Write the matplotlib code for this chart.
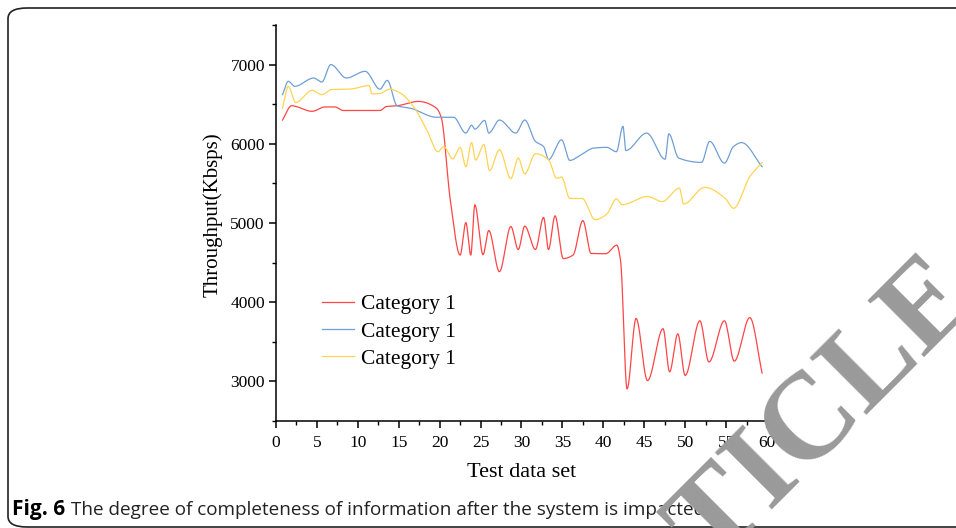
import numpy as np
import matplotlib
matplotlib.use("Agg")
import matplotlib.pyplot as plt
from matplotlib.patches import FancyBboxPatch

# values (x position, throughput)
red_x = [0.8, 1.9, 4.4, 6.0, 7.2, 8.2, 12.7, 13.5, 14.8, 17.4, 19.6, 20.2, 21.3, 22.5, 23.2,
         23.8, 24.3, 25.3, 26.0, 27.3, 28.7, 29.6, 30.4, 31.7, 32.7, 33.3, 34.1, 35.1, 36.3,
         37.5, 38.5, 40.3, 41.65, 42.1, 42.9, 44.0, 45.4, 47.3, 48.1, 49.1, 50.0, 51.8, 52.9,
         54.8, 56.0, 57.9, 59.4]
red_y = [6300, 6480, 6410, 6465, 6465, 6420, 6420, 6470, 6480, 6535, 6450, 6330, 5290, 4595, 5005,
         4595, 5230, 4600, 4905, 4385, 4955, 4665, 4960, 4665, 5070, 4665, 5090, 4550, 4595,
         5030, 4615, 4612, 4720, 4530, 2905, 3795, 3010, 3665, 3120, 3600, 3075, 3765, 3245,
         3765, 3255, 3805, 3105]

blue_x = [0.8, 1.5, 2.3, 4.6, 5.6, 6.7, 8.6, 10.9, 12.7, 13.6, 14.8, 16.4, 19.6, 21.7, 23.2,
          23.9, 24.3, 25.5, 26.0, 27.3, 29.3, 30.4, 31.7, 32.7, 33.3, 34.9, 35.9, 37.2, 38.8,
          40.4, 41.6, 42.4, 42.75, 45.3, 47.55, 48.0, 49.2, 52.0, 53.0, 54.8, 55.9, 56.9, 59.4]
blue_y = [6620, 6789, 6725, 6830, 6780, 7000, 6830, 6915, 6690, 6800, 6480, 6450, 6335, 6335, 6135,
          6235, 6185, 6295, 6135, 6300, 6135, 6300, 6030, 5965, 5800, 6050, 5790, 5855, 5945,
          5955, 5900, 6220, 5915, 6135, 5805, 6125, 5820, 5765, 6030, 5755, 5965, 6015, 5710]

yellow_x = [0.8, 1.5, 2.4, 4.4, 5.6, 6.8, 9.0, 11.4, 11.7, 12.7, 13.9, 15.2, 16.8, 18.4, 19.8,
            20.5, 21.6, 22.5, 23.2, 23.9, 24.4, 25.4, 26.1, 27.3, 28.7, 29.6, 30.4, 31.7, 33.3,
            34.3, 34.9, 35.9, 37.4, 39.0, 40.4, 41.6, 42.3, 45.4, 47.2, 49.3, 49.8, 52.4, 54.9,
            55.9, 57.9, 59.4]
yellow_y = [6450, 6725, 6520, 6675, 6620, 6685, 6690, 6735, 6630, 6635, 6690, 6640, 6470, 6180, 5900,
            5965, 5810, 5955, 5710, 6015, 5795, 5990, 5660, 5925, 5560, 5820, 5620, 5875, 5800,
            5565, 5580, 5310, 5310, 5040, 5110, 5305, 5230, 5335, 5270, 5440, 5240, 5450, 5310,
            5185, 5585, 5765]

labels = ["Category 1", "Category 1", "Category 1"]
colors = ["#ff4545", "#6f9fd6", "#ffd452"]

x_ticks = np.arange(0, 61, 5)
y_ticks = [3000, 4000, 5000, 6000, 7000]


def pchip(x, y, n=2000):
    # smooth line through the points (like Origin's spline line)
    x = np.asarray(x, float)
    y = np.asarray(y, float)
    h = np.diff(x)
    d = np.diff(y) / h
    m = np.zeros_like(y)
    for i in range(1, len(x) - 1):
        if d[i - 1] * d[i] > 0:
            w1 = 2 * h[i] + h[i - 1]
            w2 = h[i] + 2 * h[i - 1]
            m[i] = (w1 + w2) / (w1 / d[i - 1] + w2 / d[i])
    m[0] = d[0]
    m[-1] = d[-1]
    xs = np.linspace(x[0], x[-1], n)
    k = np.clip(np.searchsorted(x, xs) - 1, 0, len(x) - 2)
    t = (xs - x[k]) / h[k]
    h00 = 2 * t**3 - 3 * t**2 + 1
    h10 = t**3 - 2 * t**2 + t
    h01 = -2 * t**3 + 3 * t**2
    h11 = t**3 - t**2
    ys = h00 * y[k] + h10 * h[k] * m[k] + h01 * y[k + 1] + h11 * h[k] * m[k + 1]
    return xs, ys


plt.rcParams['font.family'] = ['Liberation Serif', 'DejaVu Serif']

fig = plt.figure(figsize=(9.56, 5.28), dpi=100)
ax = fig.add_axes([0.2887, 0.2027, 0.5136, 0.75])

series = [(red_x, red_y), (blue_x, blue_y), (yellow_x, yellow_y)]
for (sx, sy), lab, col in zip(series, labels, colors):
    xs, ys = pchip(sx, sy)
    ax.plot(xs, ys, color=col, lw=0.9, label=lab)

ax.set_xlim(0, 60)
ax.set_ylim(2500, 7500)
ax.set_xticks(x_ticks)
ax.set_yticks(y_ticks)
ax.set_xticks(np.arange(2.5, 60, 5), minor=True)
ax.set_yticks(np.arange(2500, 7501, 500), minor=True)
ax.spines['top'].set_visible(False)
ax.spines['right'].set_visible(False)
for s in ['left', 'bottom']:
    ax.spines[s].set_linewidth(1.1)
ax.tick_params(which='major', direction='out', length=5, width=1.1, labelsize=12.5, pad=3)
ax.tick_params(axis='x', which='major', pad=5)
ax.tick_params(which='minor', direction='out', length=3, width=1.0)

ax.set_xlabel("Test data set", fontsize=16, labelpad=9)
ax.set_ylabel("Throughput(Kbsps)", fontsize=15)
ax.yaxis.set_label_coords(-0.108, 0.52)

ax.legend(loc='upper left', bbox_to_anchor=(0.076, 0.342), frameon=False, fontsize=15.5,
          handlelength=1.5, handletextpad=0.3, labelspacing=0.34, borderaxespad=0)

# rounded frame of the figure panel
frame = FancyBboxPatch((8 / 956, 1 - 527 / 528), 1.2, (527 - 8) / 528,
                       boxstyle="round,pad=0,rounding_size=0.02",
                       transform=fig.transFigure, fill=False, ec="#222222", lw=1.2,
                       clip_on=False)
fig.patches.append(frame)

fig.text(12 / 956, 1 - 515 / 528, "Fig. 6", family="Open Sans", fontweight="bold",
         fontsize=15, ha="left", va="baseline")
fig.text(71 / 956, 1 - 515 / 528,
         "The degree of completeness of information after the system is impacted",
         family="Open Sans", fontsize=13.6, ha="left", va="baseline", color="#222222")

# retraction watermark
fig.text(960 / 956, 1 - 280 / 528, "RETRACTED ARTICLE", fontsize=88, fontweight="bold",
         color="#9a9a9a", rotation=45, rotation_mode="anchor", ha="right", va="center",
         zorder=10)

fig.savefig("out.png", dpi=100)
